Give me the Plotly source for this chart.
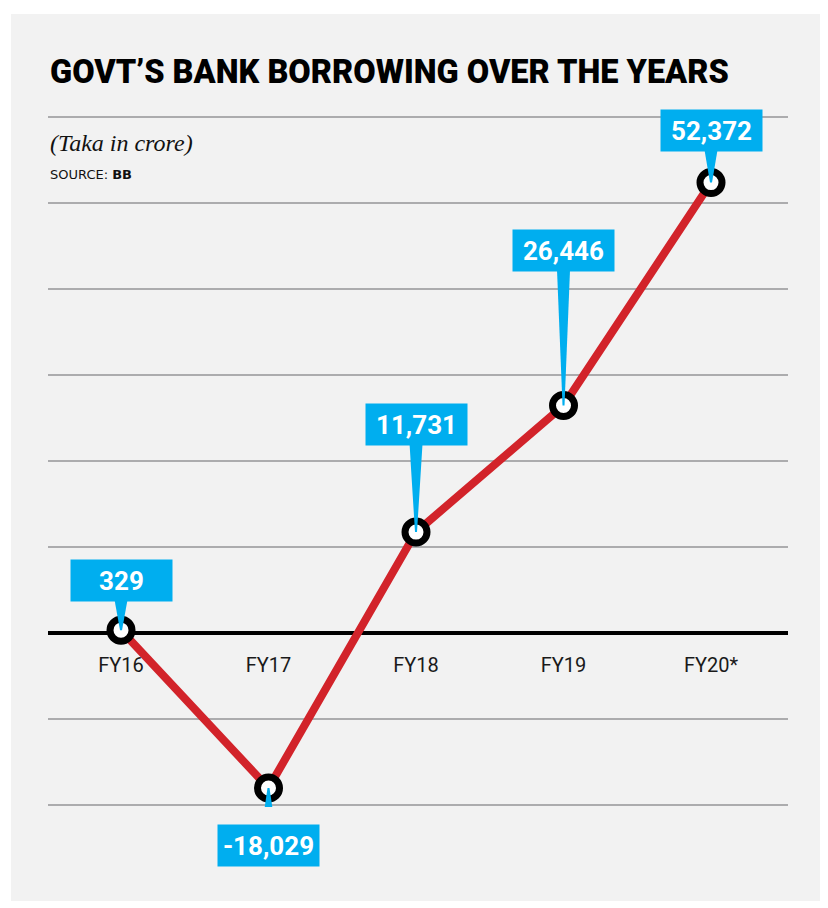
import plotly.graph_objects as go

# ---- data ----
years = ["FY16", "FY17", "FY18", "FY19", "FY20*"]
borrowing = [329, -18029, 11731, 26446, 52372]   # Taka in crore
y_ticks = [-20000, -10000, 0, 10000, 20000, 30000, 40000, 50000, 60000]

# ---- style / layout settings ----
OFF = 8                      # page body margin
W, H = 828 - OFF, 908 - OFF
# reference-pixel geometry of the plot area
X_LEFT, X_RIGHT = 48, 788    # plot area horizontal extent
Y_TOP_GRID, Y_BOT_GRID = 117, 805   # pixel rows of 60000 and -20000
PAD = 2                      # extra px so edge gridlines are drawn
T = Y_TOP_GRID - OFF - PAD
B = H - (Y_BOT_GRID - OFF + PAD)
L = X_LEFT - OFF
R = W - (X_RIGHT - OFF)
PLOT_H = H - T - B
k = (Y_BOT_GRID - Y_TOP_GRID) / (y_ticks[-1] - y_ticks[0])   # px per unit
y_min = y_ticks[0] - PAD / k
y_max = y_ticks[-1] + PAD / k

RED = "#d2232a"
BLUE = "#00aeef"
PANEL = "#f2f2f2"
GRID = "#acacae"
COND = "Roboto, Liberation Sans, sans-serif"
# label box vertical offset (pixels, + up) from each point
label_shift = [50, -57, 108, 155, 52]
BOX_W, BOX_H = 101, 41

def py(ypix):            # reference pixel row -> paper fraction
    return (H - B - (ypix - OFF)) / PLOT_H

def px(xpix):            # reference pixel column -> paper fraction
    return (xpix - OFF - L) / (W - L - R)

xi = list(range(len(years)))

fig = go.Figure()
fig.add_trace(go.Scatter(
    x=xi, y=borrowing, mode="lines+markers",
    line=dict(color=RED, width=8),
    marker=dict(size=22, color="white", line=dict(color="black", width=7)),
    cliponaxis=False, hoverinfo="skip", showlegend=False,
))

shapes = [
    dict(type="rect", xref="paper", yref="paper", x0=px(11), x1=px(825),
         y0=py(901), y1=py(14), fillcolor=PANEL, line=dict(width=0), layer="below"),
]
annotations = []
for i, (v, s) in enumerate(zip(borrowing, label_shift)):
    half = BOX_H / 2
    base = s - half + 1 if s > 0 else s + half - 1
    shapes.append(dict(
        type="path", xref="x", yref="y", xsizemode="pixel", ysizemode="pixel",
        xanchor=i, yanchor=v,
        path=f"M -6.5,{base} L 6.5,{base} L 1,0 L -1,0 Z",
        fillcolor=BLUE, line=dict(width=0), layer="above",
    ))
    annotations.append(dict(
        x=i, y=v, xref="x", yref="y", text=f"<b>{v:,}</b>", showarrow=False,
        yshift=s, width=BOX_W, height=BOX_H, bgcolor=BLUE, borderpad=0,
        font=dict(family=COND, size=26, color="white"),
        xanchor="center", yanchor="middle", align="center", valign="middle",
    ))

annotations += [
    dict(xref="paper", yref="paper", x=0, y=py(72), xanchor="left", yanchor="middle",
         text="GOVT’S BANK BORROWING OVER THE YEARS", showarrow=False,
         font=dict(family=COND, size=32.5, color="black", weight=900)),
    dict(xref="paper", yref="paper", x=0, y=py(143), xanchor="left", yanchor="middle",
         text="<i>(Taka in crore)</i>", showarrow=False,
         font=dict(family="Liberation Serif, serif", size=24, color="#111")),
    dict(xref="paper", yref="paper", x=0, y=py(174), xanchor="left", yanchor="middle",
         text="SOURCE: <b>BB</b>", showarrow=False,
         font=dict(family="DejaVu Sans, sans-serif", size=13, color="#111")),
]

fig.update_layout(
    width=W, height=H,
    margin=dict(l=L, r=R, t=T, b=B, pad=0),
    paper_bgcolor="white", plot_bgcolor="rgba(0,0,0,0)",
    shapes=shapes, annotations=annotations,
    xaxis=dict(
        range=[-0.495, 4.522], tickmode="array", tickvals=xi, ticktext=years,
        showgrid=False, zeroline=False, showline=False, ticks="",
        anchor="free", position=(0 - y_min) / (y_max - y_min), ticklabelstandoff=18,
        tickfont=dict(family=COND, size=20, color="#1a1a1a"),
    ),
    yaxis=dict(
        range=[y_min, y_max], tickmode="array", tickvals=y_ticks,
        showticklabels=False, showgrid=True, gridcolor=GRID, gridwidth=2,
        zeroline=True, zerolinecolor="black", zerolinewidth=4,
        showline=False, ticks="",
    ),
)

fig.write_html("out.html")
